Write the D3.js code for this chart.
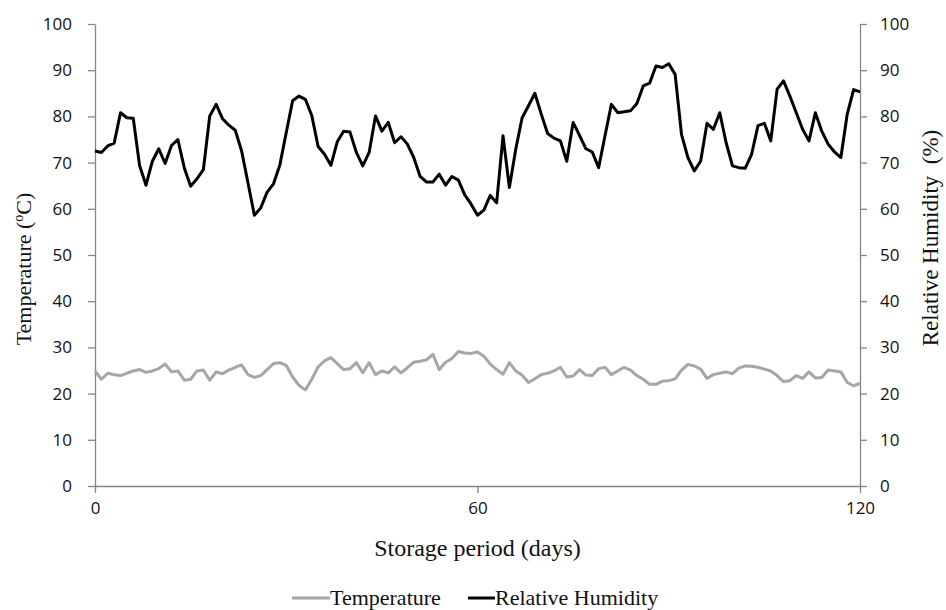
<!DOCTYPE html>
<html lang="en">
<head>
<meta charset="UTF-8">
<title>Temperature and Relative Humidity</title>
<script src="https://cdn.jsdelivr.net/npm/d3@7"></script>
<style>
    body { margin: 0; background: #fff; }
    svg { display: block; }
    .axis path, .axis line { stroke: #868686; stroke-width: 1.3; }
    .axis text { font-family: "Open Sans", sans-serif; font-size: 17px; fill: #111; }
    .title { font-family: "Liberation Serif", "Times New Roman", serif; font-size: 22px; fill: #111; }
</style>
</head>
<body>
<script>
    // storage days 0..120
    const days = d3.range(0, 121);

    const humidity = [
        72.5, 72.2, 73.6, 74.2, 80.8, 79.7, 79.6, 69.3, 65.1, 70.3,
        73.0, 69.8, 73.7, 75.0, 68.9, 64.9, 66.5, 68.5, 80.1, 82.6,
        79.5, 78.1, 77.0, 72.5, 65.6, 58.6, 60.2, 63.6, 65.4, 69.5,
        76.5, 83.4, 84.4, 83.7, 80.2, 73.5, 71.8, 69.4, 74.5, 76.8,
        76.6, 72.2, 69.3, 72.2, 80.1, 76.8, 78.7, 74.3, 75.6, 74.0,
        71.1, 67.0, 65.8, 65.8, 67.5, 65.1, 67.0, 66.2, 63.0, 61.0,
        58.6, 59.7, 62.9, 61.3, 75.8, 64.6, 72.9, 79.7, 82.3, 85.0,
        80.5, 76.3, 75.3, 74.7, 70.3, 78.7, 75.9, 73.0, 72.3, 68.9,
        75.8, 82.6, 80.8, 81.0, 81.2, 82.8, 86.6, 87.2, 90.9, 90.6,
        91.4, 89.1, 76.1, 71.1, 68.2, 70.3, 78.5, 77.2, 80.8, 74.3,
        69.3, 68.9, 68.8, 71.8, 78.0, 78.5, 74.7, 85.9, 87.7, 84.4,
        80.8, 77.2, 74.7, 80.8, 76.8, 74.0, 72.3, 71.1, 80.5, 85.8,
        85.3
    ];

    const temperature = [
        24.9, 23.1, 24.4, 24.1, 23.9, 24.4, 24.9, 25.2, 24.6, 24.9,
        25.4, 26.4, 24.7, 24.9, 22.9, 23.1, 24.9, 25.1, 22.9, 24.7,
        24.3, 25.1, 25.7, 26.2, 24.1, 23.5, 23.9, 25.2, 26.5, 26.7,
        26.1, 23.6, 21.8, 20.8, 23.1, 25.8, 27.1, 27.8, 26.5, 25.2,
        25.4, 26.7, 24.5, 26.7, 24.1, 24.9, 24.5, 25.8, 24.5, 25.6,
        26.8, 27.0, 27.3, 28.5, 25.2, 26.8, 27.6, 29.1, 28.8, 28.7,
        29.0, 28.1, 26.4, 25.2, 24.2, 26.7, 24.9, 24.0, 22.4, 23.2,
        24.1, 24.4, 24.9, 25.7, 23.6, 23.8, 25.2, 24.0, 23.9, 25.4,
        25.7, 24.1, 24.9, 25.7, 25.1, 23.9, 23.1, 22.0, 22.0, 22.7,
        22.8, 23.2, 25.1, 26.3, 26.0, 25.3, 23.3, 24.1, 24.4, 24.7,
        24.3, 25.5, 26.0, 25.9, 25.7, 25.3, 24.9, 23.9, 22.6, 22.8,
        23.9, 23.3, 24.7, 23.4, 23.5, 25.1, 24.9, 24.7, 22.4, 21.7,
        22.2
    ];

    const xTicks = [0, 60, 120];
    const yTicks = d3.range(0, 101, 10);

    const width = 946, height = 610;
    const margin = { top: 24, right: 86, bottom: 124, left: 95 };
    const innerW = width - margin.left - margin.right;
    const innerH = height - margin.top - margin.bottom;

    const svg = d3.select("body").append("svg")
        .attr("width", width)
        .attr("height", height);

    const g = svg.append("g")
        .attr("transform", `translate(${margin.left},${margin.top})`);

    const x = d3.scaleLinear().domain([0, 120]).range([0, innerW]);
    const yL = d3.scaleLinear().domain([0, 100]).range([innerH, 0]);
    const yR = d3.scaleLinear().domain([0, 100]).range([innerH, 0]);

    // axes
    g.append("g").attr("class", "axis")
        .call(d3.axisLeft(yL).tickValues(yTicks).tickSize(7).tickSizeOuter(0).tickPadding(16));

    g.append("g").attr("class", "axis")
        .attr("transform", `translate(${innerW},0)`)
        .call(d3.axisRight(yR).tickValues(yTicks).tickSize(7).tickSizeOuter(0).tickPadding(13));

    g.append("g").attr("class", "axis")
        .attr("transform", `translate(0,${innerH})`)
        .call(d3.axisBottom(x).tickValues(xTicks).tickSize(7).tickSizeOuter(0).tickPadding(9));

    // lines
    const tempLine = d3.line().x((d, i) => x(days[i])).y(d => yL(d));
    const humLine = d3.line().x((d, i) => x(days[i])).y(d => yR(d));

    g.append("path")
        .datum(temperature)
        .attr("fill", "none")
        .attr("stroke", "#a6a6a6")
        .attr("stroke-width", 3)
        .attr("stroke-linejoin", "round")
        .attr("d", tempLine);

    g.append("path")
        .datum(humidity)
        .attr("fill", "none")
        .attr("stroke", "#000")
        .attr("stroke-width", 3)
        .attr("stroke-linejoin", "round")
        .attr("d", humLine);

    // axis titles
    svg.append("text").attr("class", "title")
        .attr("x", margin.left + innerW / 2)
        .attr("y", 556)
        .attr("text-anchor", "middle")
        .style("font-size", "24px")
        .text("Storage period (days)");

    const lt = svg.append("text").attr("class", "title")
        .attr("transform", "translate(31,269) rotate(-90)")
        .attr("text-anchor", "middle");
    lt.append("tspan").text("Temperature (");
    lt.append("tspan").attr("dy", -8).attr("font-size", 14).text("o");
    lt.append("tspan").attr("dy", 8).text("C)");

    svg.append("text").attr("class", "title")
        .attr("transform", "translate(938,238) rotate(-90)")
        .attr("text-anchor", "middle")
        .attr("xml:space", "preserve")
        .style("font-size", "23px")
        .text("Relative Humidity  (%)");

    // legend
    const legend = [
        { label: "Temperature", color: "#a6a6a6", x0: 292, x1: 330 },
        { label: "Relative Humidity", color: "#000", x0: 468, x1: 495 }
    ];
    const lg = svg.append("g");
    legend.forEach(d => {
        lg.append("line")
            .attr("x1", d.x0).attr("x2", d.x1)
            .attr("y1", 598).attr("y2", 598)
            .attr("stroke", d.color).attr("stroke-width", 3);
        lg.append("text").attr("class", "title")
            .attr("x", d.x1).attr("y", 605)
            .text(d.label);
    });
</script>
</body>
</html>
